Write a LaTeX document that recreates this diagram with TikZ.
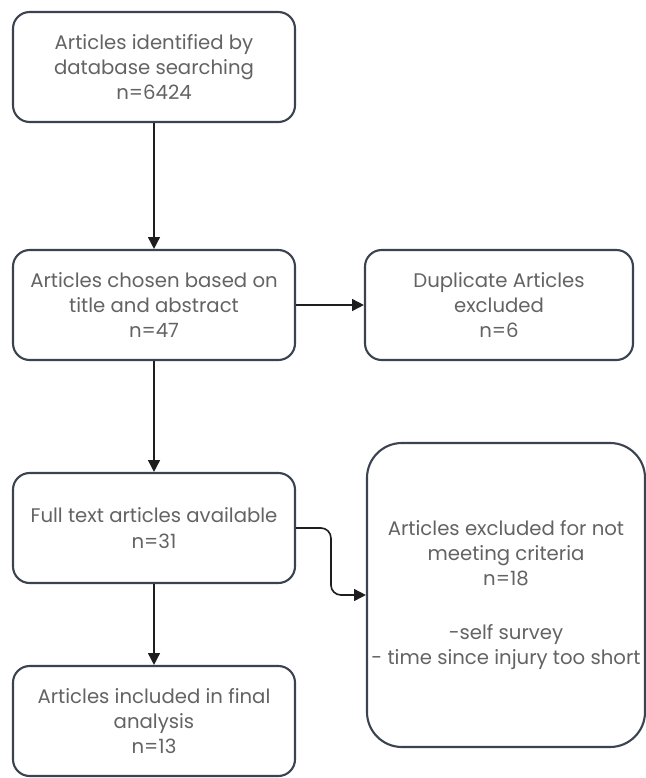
\documentclass[tikz,border=0pt]{standalone}
\usepackage{fontspec}
\setmainfont{Poppins}
\usetikzlibrary{
    arrows.meta,
    positioning,
    calc
}
\definecolor{boxline}{HTML}{3B4350}
\definecolor{boxtext}{HTML}{636363}
\definecolor{linkline}{HTML}{1E1E1E}
\tikzset{
    % Boxes
    stage/.style={draw=boxline,line width=1.8pt,rounded corners=0.5cm,
        minimum width=8.46cm,minimum height=3.3cm,align=center,
        text=boxtext,font=\fontsize{16.8}{21.5}\selectfont},
    side stage/.style={stage,minimum width=8.04cm},
    big stage/.style={stage,minimum width=8.34cm,minimum height=9.12cm,rounded corners=1.05cm},
    %
    % Arrows
    arrow tip/.tip={Triangle[length=10pt,width=10pt]},
    arr/.style={->,>={arrow tip},draw=linkline,line width=1.4pt}
}

\begin{document}
\begin{tikzpicture}[x=0.03cm,y=-0.03cm]
        \useasboundingbox (0,0) rectangle (646,778);
        \node[stage] (ident) at (154,67) {Articles identified by\\database searching\\n=6424};
        \node[stage] (chosen) at (154,305) {Articles chosen based on\\title and abstract\\n=47};
        \node[side stage] (dupl) at (499,305) {Duplicate Articles\\excluded\\n=6};
        \node[stage] (full) at (154,528) {Full text articles available\\n=31};
        \node[big stage] (excl) at (506,595) {Articles excluded for not\\meeting criteria\\n=18\\[0.85cm]-self survey\\- time since injury too short};
        \node[stage] (final) at (154,721) {Articles included in final\\analysis\\n=13};
        % links
        \draw[arr] (ident) -- (chosen);
        \draw[arr] (chosen) -- (dupl);
        \draw[arr] (chosen) -- (full);
        \draw[arr] (full) -- (final);
        \draw[arr,rounded corners=0.3cm] (full.east) -| ($(excl.west)+(-35,0)$) -- (excl.west);
    \end{tikzpicture}
\end{document}
